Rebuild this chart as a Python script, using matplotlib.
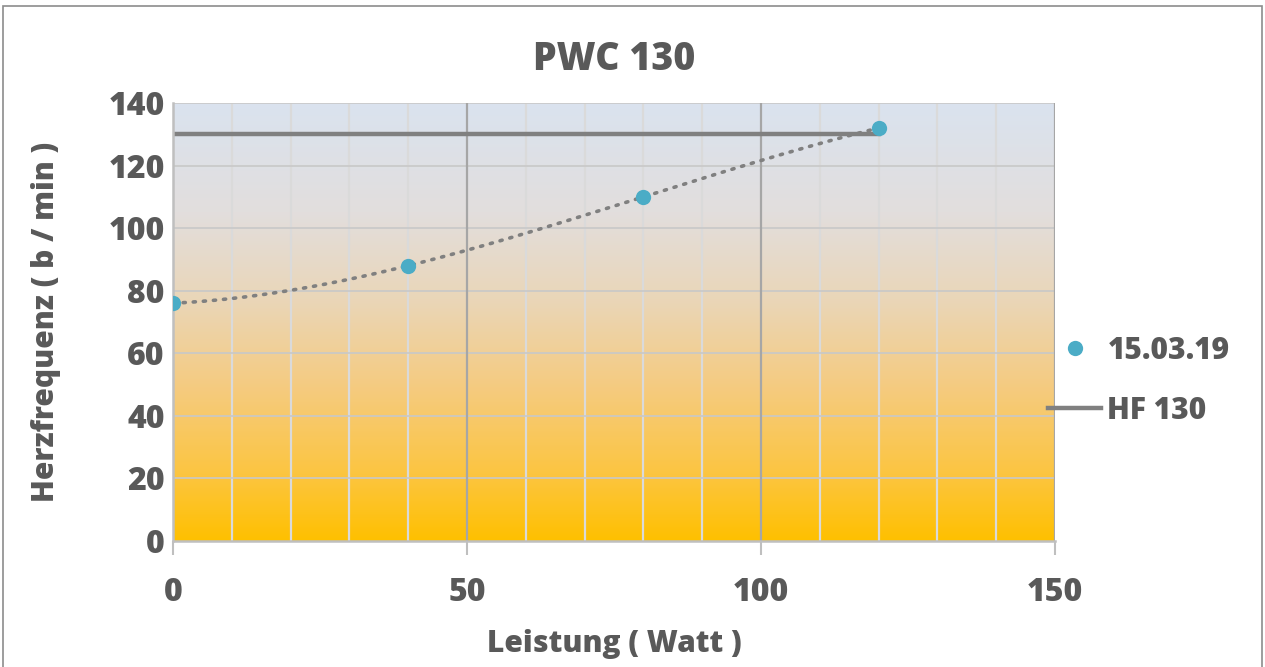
import numpy as np
import matplotlib
matplotlib.use("Agg")
import matplotlib.pyplot as plt
from matplotlib.colors import LinearSegmentedColormap
from matplotlib.lines import Line2D
from matplotlib.patches import Rectangle

plt.rcParams['font.family'] = ['Open Sans', 'DejaVu Sans']

# Measurements
leistung = [0, 40, 80, 120]          # Watt
herzfrequenz = [76, 88, 110, 132]    # b / min
hf_grenze = 130
series_label = "15.03.19"
limit_label = "HF 130"

title = "PWC 130"
xlabel = "Leistung ( Watt )"
ylabel = "Herzfrequenz ( b / min )"

text_color = "#595959"
fs_tick = 23
fs_label = 21.5
wt = 800

fig = plt.figure(figsize=(12.65, 6.67), dpi=100)
ax = fig.add_axes([0.1368, 0.1889, 0.834 - 0.1368, 0.8456 - 0.1889])

# Gradient plot background
grad = LinearSegmentedColormap.from_list(
    "bg", [(0.0, "#FFC000"), (0.15, "#FCC540"), (0.35, "#F5CB80"),
           (0.55, "#EAD6B8"), (0.75, "#E2DEDD"), (1.0, "#DAE3EF")])
ax.imshow(np.linspace(0, 1, 256).reshape(-1, 1), cmap=grad, origin="lower",
          extent=[0, 150, 0, 140], aspect="auto", zorder=0)

ax.set_xlim(0, 150)
ax.set_ylim(0, 140)

# Grid lines
for xv in range(10, 150, 10):
    if xv % 50 != 0:
        ax.axvline(xv, color="#DADADA", lw=1.6, zorder=1)
for yv in range(20, 141, 20):
    ax.axhline(yv, color="#C8C8C8", lw=1.2, zorder=1)
for xv in (50, 100, 150):
    ax.axvline(xv, color="#A6A6A6", lw=1.6, zorder=1.5)

# Polynomial trend line (order 3)
coef = np.polyfit(leistung, herzfrequenz, 3)
xt = np.linspace(min(leistung), max(leistung), 200)
ax.plot(xt, np.polyval(coef, xt), color="#808080", lw=2.6,
        linestyle=(0, (0.6, 2.2)), dash_capstyle="round", zorder=3)

# HF 130 limit
ax.plot([0, max(leistung)], [hf_grenze, hf_grenze], color="#808080", lw=3.2,
        zorder=2, label=limit_label)

# Data points
ax.plot(leistung, herzfrequenz, "o", color="#4BACC6", ms=11, mec="none",
        zorder=4, label=series_label)

ax.set_xticks([0, 50, 100, 150])
ax.set_yticks(range(0, 141, 20))
ax.tick_params(axis="x", length=10, width=1.5, color="#BFBFBF", pad=16,
               labelsize=fs_tick, labelcolor=text_color)
ax.tick_params(axis="y", length=0, pad=6, labelsize=fs_tick, labelcolor=text_color)
for lab in ax.get_xticklabels() + ax.get_yticklabels():
    lab.set_fontweight(wt)

for side in ("top", "right"):
    ax.spines[side].set_visible(False)
ax.spines["left"].set_color("#BFBFBF")
ax.spines["left"].set_linewidth(1.8)
ax.spines["bottom"].set_color("#BFBFBF")
ax.spines["bottom"].set_linewidth(1.8)

ax.set_title(title, fontsize=27, fontweight=wt, color=text_color, pad=24)
ax.set_xlabel(xlabel, fontsize=fs_label, fontweight=wt, color=text_color, labelpad=14)
ax.set_ylabel(ylabel, fontsize=fs_label, fontweight=wt, color=text_color, labelpad=34)

handles = [
    Line2D([], [], marker="o", linestyle="none", color="#4BACC6", ms=11, mec="none"),
    Line2D([], [], color="#808080", lw=3.2),
]
fig.legend(handles, [series_label, limit_label], loc="center left",
           bbox_to_anchor=(0.807, 0.429), frameon=False,
           labelcolor=text_color, prop={"weight": wt, "size": fs_label},
           handlelength=1.8, handletextpad=0.2, labelspacing=1.0)

# Chart frame
fig.patches.append(Rectangle((0.0025, -0.01), 0.995, 1.001,
                             transform=fig.transFigure, fill=False,
                             edgecolor="#8C8C8C", lw=1.2))

fig.savefig("out.png", dpi=100)
